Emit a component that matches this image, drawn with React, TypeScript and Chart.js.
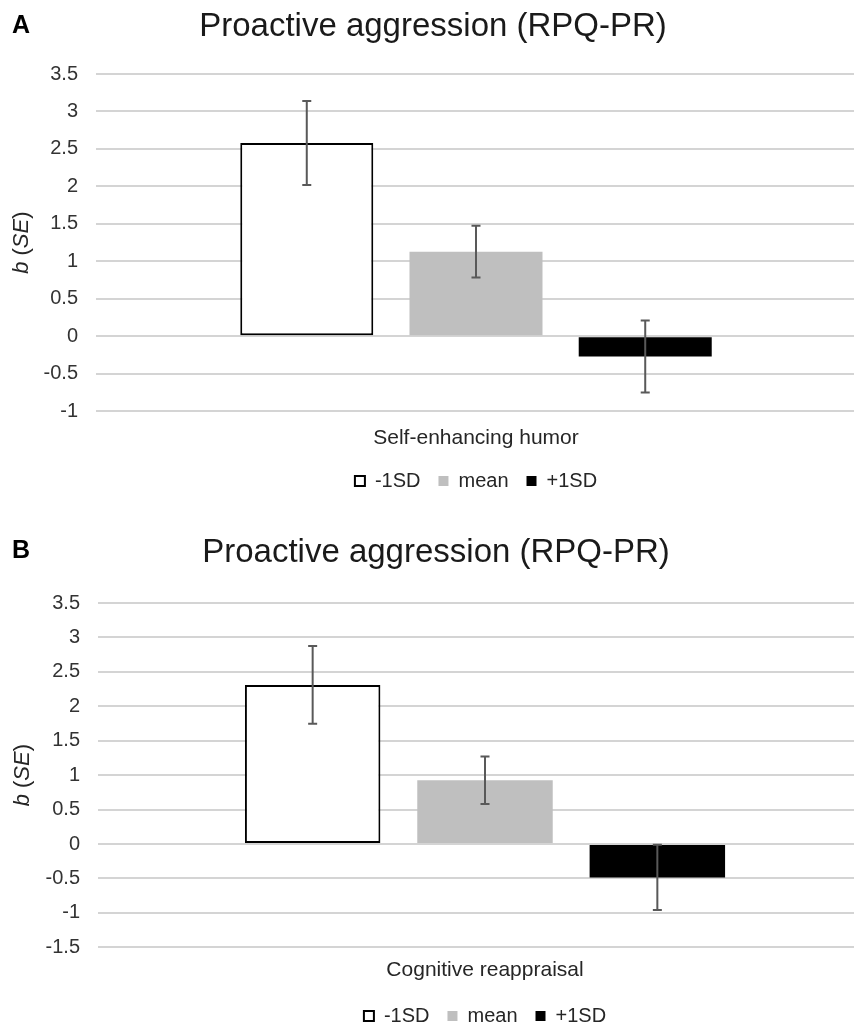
import React, { useEffect, useRef } from 'react';
import { Chart, registerables } from 'chart.js';

Chart.register(...registerables);

// ---------- data ----------
const chartTitle = 'Proactive aggression (RPQ-PR)';
const seriesLabels = ['-1SD', 'mean', '+1SD'];

const categoriesA = ['Self-enhancing humor'];
const valuesA = [2.58, 1.13, -0.27];
const errorsA = [0.56, 0.345, 0.48];
const yRangeA = [-1, 3.5];

const categoriesB = ['Cognitive reappraisal'];
const valuesB = [2.31, 0.925, -0.485];
const errorsB = [0.565, 0.345, 0.475];
const yRangeB = [-1.5, 3.5];

const yStep = 0.5;
const yTitleParts = [
  { text: 'b', italic: true },
  { text: ' (', italic: false },
  { text: 'SE', italic: true },
  { text: ')', italic: false },
];

// ---------- styles ----------
const FONT = '"Liberation Sans", Arial, Helvetica, sans-serif';
const fills = ['#ffffff', '#bfbfbf', '#000000'];
const borders = ['#000000', '#bfbfbf', '#000000'];
const borderWidths = [2, 0, 0];

const errorBarsPlugin = {
  id: 'errorBars',
  afterDatasetsDraw(chart: any, _args: any, opts: any) {
    const errs: number[] = opts.errors || [];
    const yScale = chart.scales.y;
    const ctx = chart.ctx;
    ctx.save();
    ctx.strokeStyle = opts.color || '#595959';
    ctx.lineWidth = opts.width || 2;
    chart.data.datasets.forEach((ds: any, i: number) => {
      const meta = chart.getDatasetMeta(i);
      const el = meta.data[0];
      if (!el) return;
      const v = ds.data[0];
      const e = errs[i];
      const x = el.x;
      const yTop = yScale.getPixelForValue(v + e);
      const yBot = yScale.getPixelForValue(v - e);
      const c = opts.cap || 4.5;
      ctx.beginPath();
      ctx.moveTo(x, yTop);
      ctx.lineTo(x, yBot);
      ctx.moveTo(x - c, yTop);
      ctx.lineTo(x + c, yTop);
      ctx.moveTo(x - c, yBot);
      ctx.lineTo(x + c, yBot);
      ctx.stroke();
    });
    ctx.restore();
  },
};

const decoPlugin = {
  id: 'deco',
  afterDraw(chart: any, _args: any, opts: any) {
    const ctx = chart.ctx;
    ctx.save();
    // panel letter
    ctx.font = `bold 25px ${FONT}`;
    ctx.fillStyle = '#000000';
    ctx.textAlign = 'left';
    ctx.textBaseline = 'alphabetic';
    ctx.fillText(opts.letter, 12, opts.letterBaseline);
    // y axis title with mixed styles
    const { top, bottom } = chart.chartArea;
    const cy = (top + bottom) / 2;
    const size = 22;
    const fontFor = (it: boolean) => `${it ? 'italic ' : ''}${size}px ${FONT}`;
    let total = 0;
    const widths = yTitleParts.map((p) => {
      ctx.font = fontFor(p.italic);
      const w = ctx.measureText(p.text).width;
      total += w;
      return w;
    });
    ctx.translate(opts.axisX, cy);
    ctx.rotate(-Math.PI / 2);
    ctx.textBaseline = 'middle';
    ctx.fillStyle = '#262626';
    let x = -total / 2;
    yTitleParts.forEach((p, i) => {
      ctx.font = fontFor(p.italic);
      ctx.fillText(p.text, x, 0);
      x += widths[i];
    });
    ctx.restore();
  },
};

function makeConfig(
  categories: string[],
  values: number[],
  errors: number[],
  yRange: number[],
  opts: { letter: string; letterBaseline: number; axisX: number; padLeft: number; yWidth: number; padRight: number; titleBottom: number; xPad: number; xHeight: number }
): any {
  return {
    type: 'bar',
    data: {
      labels: categories,
      datasets: seriesLabels.map((label, i) => ({
        label,
        data: [values[i]],
        backgroundColor: fills[i],
        borderColor: borders[i],
        borderWidth: borderWidths[i],
        borderSkipped: false,
        categoryPercentage: 0.668,
        barPercentage: 0.786,
      })),
    },
    options: {
      responsive: false,
      animation: false,
      devicePixelRatio: 1,
      layout: { padding: { left: opts.padLeft, right: opts.padRight, top: 0, bottom: 0 } },
      plugins: {
        title: {
          display: true,
          text: chartTitle,
          color: '#1a1a1a',
          font: { family: FONT, size: 33, weight: 'normal', lineHeight: 1.2 },
          padding: { top: 7, bottom: opts.titleBottom },
        },
        legend: {
          position: 'bottom',
          fullSize: false,
          labels: {
            boxWidth: 10,
            boxHeight: 10,
            color: '#262626',
            font: { family: FONT, size: 20 },
            padding: 18,
          },
        },
        tooltip: { enabled: false },
        errorBars: { errors, color: '#595959', width: 2, cap: 4.5 },
        deco: { letter: opts.letter, letterBaseline: opts.letterBaseline, axisX: opts.axisX },
      },
      scales: {
        x: {
          grid: { display: false, drawTicks: false },
          border: { display: false },
          ticks: { color: '#262626', font: { family: FONT, size: 21 }, padding: opts.xPad },
          afterFit: (s: any) => {
            s.height = opts.xHeight;
          },
        },
        y: {
          min: yRange[0],
          max: yRange[1],
          ticks: {
            stepSize: yStep,
            color: '#333333',
            font: { family: FONT, size: 20 },
            padding: 18,
            callback: (v: any) => String(v),
          },
          grid: { color: '#d4d4d4', lineWidth: 2, drawTicks: false },
          border: { display: false },
          afterFit: (s: any) => {
            s.width = opts.yWidth;
          },
        },
      },
    },
    plugins: [errorBarsPlugin, decoPlugin],
  };
}

function Panel(props: { top: number; width: number; height: number; config: any }) {
  const ref = useRef<HTMLCanvasElement | null>(null);
  useEffect(() => {
    if (!ref.current) return;
    const chart = new Chart(ref.current, props.config);
    return () => chart.destroy();
  }, []);
  return (
    <div style={{ position: 'absolute', left: 0, top: props.top, width: props.width, height: props.height }}>
      <canvas ref={ref} width={props.width} height={props.height} style={{ display: 'block' }} />
    </div>
  );
}

export default function App() {
  const cfgA = makeConfig(categoriesA, valuesA, errorsA, yRangeA, {
    letter: 'A', letterBaseline: 33, axisX: 22, padLeft: 10, yWidth: 86, padRight: 10, titleBottom: 27.4, xPad: 14.5, xHeight: 41.7,
  });
  const cfgB = makeConfig(categoriesB, valuesB, errorsB, yRangeB, {
    letter: 'B', letterBaseline: 32, axisX: 23, padLeft: 0, yWidth: 98, padRight: 0, titleBottom: 30.4, xPad: 10.5, xHeight: 40.7,
  });
  return (
    <div style={{ position: 'fixed', left: 0, top: 0, width: 854, height: 1027, overflow: 'hidden', background: '#ffffff' }}>
      <Panel top={0} width={866} height={501} config={cfgA} />
      <Panel top={526} width={872} height={510} config={cfgB} />
    </div>
  );
}
